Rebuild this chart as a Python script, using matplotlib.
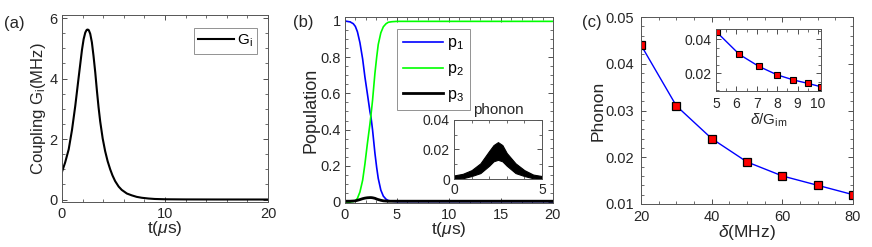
import matplotlib
matplotlib.use("Agg")
import matplotlib.pyplot as plt
from matplotlib.ticker import MultipleLocator

plt.rcParams['font.family'] = ['Liberation Sans', 'DejaVu Sans']
plt.rcParams['mathtext.fontset'] = 'custom'
plt.rcParams['mathtext.rm'] = 'Liberation Sans'
plt.rcParams['mathtext.it'] = 'Liberation Sans:italic'

# ---------------- data ----------------
# (a) coupling G_i(t)
t_a = [0.0, 0.3, 0.65, 0.97, 1.29, 1.61, 1.94, 2.1, 2.26, 2.4, 2.5, 2.6, 2.74, 2.9,
       3.06, 3.23, 3.39, 3.55, 3.71, 3.95, 4.19, 4.43, 4.68, 4.9, 5.16, 5.5, 5.8,
       6.3, 6.77, 7.25, 7.74, 8.4, 9.0, 10.0, 12.0, 15.0, 20.0]
g_a = [0.92, 1.22, 1.66, 2.3, 3.1, 4.02, 4.95, 5.3, 5.52, 5.61, 5.62, 5.6, 5.48, 5.2,
       4.75, 4.2, 3.6, 3.05, 2.58, 2.02, 1.6, 1.27, 1.0, 0.8, 0.61, 0.43, 0.32,
       0.2, 0.14, 0.09, 0.06, 0.035, 0.02, 0.01, 0.005, 0.003, 0.002]

# (b) populations
t_b = [0.0, 0.5, 0.8, 1.0, 1.2, 1.44, 1.7, 1.92, 2.15, 2.4, 2.5, 2.65, 2.88, 3.05, 3.2,
       3.45, 3.69, 3.95, 4.17, 4.5, 5.0, 6.0, 8.0, 10.0, 15.0, 20.0]
p1 = [1.0, 0.995, 0.985, 0.97, 0.94, 0.88, 0.79, 0.69, 0.6, 0.5, 0.47, 0.4, 0.27, 0.19, 0.13,
      0.065, 0.032, 0.015, 0.008, 0.004, 0.002, 0.002, 0.002, 0.002, 0.002, 0.002]
p2 = [0.0, 0.0, 0.002, 0.006, 0.02, 0.055, 0.12, 0.21, 0.32, 0.43, 0.48, 0.56, 0.71, 0.8, 0.87,
      0.935, 0.968, 0.985, 0.993, 0.996, 0.998, 0.998, 0.998, 0.998, 0.998, 0.998]
p3 = [0.004, 0.004, 0.005, 0.006, 0.009, 0.013, 0.018, 0.021, 0.023, 0.024, 0.024, 0.023, 0.02,
      0.016, 0.013, 0.009, 0.006, 0.005, 0.004, 0.004, 0.004, 0.004, 0.004, 0.004, 0.004, 0.004]

# (b) inset: phonon oscillation envelope
t_ph = [0.0, 0.5, 1.0, 1.5, 2.0, 2.25, 2.5, 2.75, 3.0, 3.5, 4.0, 4.5, 5.0]
ph_hi = [0.0024, 0.0035, 0.006, 0.0106, 0.019, 0.023, 0.025, 0.023, 0.0176, 0.0106, 0.006, 0.003, 0.002]
ph_lo = [0.0, 0.0005, 0.002, 0.004, 0.009, 0.012, 0.013, 0.012, 0.009, 0.004, 0.002, 0.0005, 0.0]

# (c) phonon vs detuning
delta = [20, 30, 40, 50, 60, 70, 80]
phonon = [0.044, 0.031, 0.024, 0.019, 0.016, 0.014, 0.012]
ratio = [5.05, 6.15, 7.1, 8.0, 8.8, 9.5, 10.15]

FS = 10.5     # tick labels
LFS = 12.5    # axis labels
IFS = 10      # inset ticks
TXT = '#262626'

fig = plt.figure(figsize=(8.72, 2.47), dpi=100)


def style(ax, fs=FS, xpad=3.5, ypad=3):
    ax.tick_params(which='both', direction='in', top=True, right=True,
                   colors='#333333', labelsize=fs, labelcolor=TXT)
    ax.tick_params(axis='x', pad=xpad)
    ax.tick_params(axis='y', pad=ypad)
    ax.tick_params(which='major', length=3.5, width=0.6)
    ax.tick_params(which='minor', length=2, width=0.5)
    for s in ax.spines.values():
        s.set_color('#555555')
        s.set_linewidth(0.7)


# ---------- (a) ----------
axa = fig.add_axes([0.0711, 0.1822, 0.2362, 0.757])
axa.plot(t_a, g_a, color='black', lw=1.5, label=r'G$_\mathregular{i}$')
axa.set_xlim(0, 20)
axa.set_ylim(-0.08, 6.1)
axa.set_xticks([0, 10, 20])
axa.set_yticks([0, 2, 4, 6])
axa.xaxis.set_minor_locator(MultipleLocator(2))
axa.yaxis.set_minor_locator(MultipleLocator(0.5))
style(axa)
axa.set_xlabel(r't($\mu$s)', fontsize=LFS, labelpad=-1, color=TXT)
axa.set_ylabel(r'Coupling G$_\mathregular{i}$(MHz)', fontsize=12, labelpad=1, color=TXT)
leg = axa.legend(loc='upper right', bbox_to_anchor=(0.2947, 0.8866),
                 bbox_transform=fig.transFigure, borderaxespad=0, fontsize=11,
                 fancybox=False, handlelength=2.3, handletextpad=0.2,
                 borderpad=0.3)
leg.get_frame().set_edgecolor('#777777')
leg.get_frame().set_linewidth(0.7)
fig.text(0.005, 0.885, '(a)', fontsize=12, color=TXT)

# ---------- (b) ----------
axb = fig.add_axes([0.3956, 0.1781, 0.2385, 0.753])
axb.plot(t_b, p1, color='#0000ff', lw=1.2, label=r'p$_\mathregular{1}$')
axb.plot(t_b, p2, color='#00ff00', lw=1.2, label=r'p$_\mathregular{2}$')
axb.plot(t_b, p3, color='black', lw=2.0, label=r'p$_\mathregular{3}$')
axb.set_xlim(0, 20)
axb.set_ylim(-0.006, 1.022)
axb.set_xticks([0, 5, 10, 15, 20])
axb.set_yticks([0, 0.2, 0.4, 0.6, 0.8, 1])
axb.set_yticklabels(['0', '0.2', '0.4', '0.6', '0.8', '1'])
axb.xaxis.set_minor_locator(MultipleLocator(1))
axb.yaxis.set_minor_locator(MultipleLocator(0.05))
style(axb)
axb.set_xlabel(r't($\mu$s)', fontsize=LFS, labelpad=-1, color=TXT)
axb.set_ylabel('Population', fontsize=13, labelpad=1, color=TXT)
legb = axb.legend(loc='upper left', bbox_to_anchor=(0.4553, 0.8826),
                  bbox_transform=fig.transFigure, borderaxespad=0, fontsize=11.5,
                  fancybox=False, handlelength=2.5, handletextpad=0.2,
                  borderpad=0.4, labelspacing=0.55)
legb.get_frame().set_edgecolor('#777777')
legb.get_frame().set_linewidth(0.7)
fig.text(0.336, 0.89, '(b)', fontsize=12, color=TXT)

# inset (b)
axbi = fig.add_axes([0.5206, 0.2753, 0.1009, 0.2389])
axbi.fill_between(t_ph, ph_lo, ph_hi, color='black', lw=0.8, edgecolor='black')
axbi.set_xlim(0, 5)
axbi.set_ylim(0, 0.04)
axbi.set_xticks([0, 5])
axbi.set_yticks([0, 0.02, 0.04])
axbi.set_yticklabels(['0', '0.02', '0.04'])
axbi.xaxis.set_minor_locator(MultipleLocator(1))
axbi.yaxis.set_minor_locator(MultipleLocator(0.01))
style(axbi, fs=IFS, xpad=3, ypad=3)
axbi.set_title('phonon', fontsize=11, pad=4, color=TXT)

# ---------- (c) ----------
axc = fig.add_axes([0.7351, 0.1741, 0.2431, 0.757])
axc.plot(delta, phonon, color='#0000ff', lw=1.0, marker='s', ms=6,
         markerfacecolor='#ff0000', markeredgecolor='black', markeredgewidth=0.9)
axc.set_xlim(20, 80)
axc.set_ylim(0.01, 0.05)
axc.set_xticks([20, 40, 60, 80])
axc.set_yticks([0.01, 0.02, 0.03, 0.04, 0.05])
axc.set_yticklabels(['0.01', '0.02', '0.03', '0.04', '0.05'])
axc.xaxis.set_minor_locator(MultipleLocator(5))
axc.yaxis.set_minor_locator(MultipleLocator(0.002))
style(axc, xpad=4.5, ypad=5)
axc.set_xlabel(r'$\mathit{\delta}$(MHz)', fontsize=LFS, labelpad=-1, color=TXT)
axc.set_ylabel('Phonon', fontsize=LFS, labelpad=0, color=TXT)
fig.text(0.667, 0.89, '(c)', fontsize=12, color=TXT)

# inset (c)
axci = fig.add_axes([0.8211, 0.6316, 0.1204, 0.251])
axci.plot(ratio, phonon, color='#0000ff', lw=1.0, marker='s', ms=3.8,
          markerfacecolor='#ff0000', markeredgecolor='black', markeredgewidth=0.8)
axci.set_xlim(5, 10.15)
axci.set_ylim(0.0095, 0.046)
axci.set_xticks([5, 6, 7, 8, 9, 10])
axci.set_yticks([0.02, 0.04])
axci.set_yticklabels(['0.02', '0.04'])
axci.xaxis.set_minor_locator(MultipleLocator(0.5))
axci.yaxis.set_minor_locator(MultipleLocator(0.005))
style(axci, fs=IFS, xpad=4, ypad=3)
axci.set_xlabel(r'$\mathit{\delta}$/G$_\mathregular{im}$', fontsize=11, labelpad=1, color=TXT)

fig.savefig('out.png', dpi=100)
